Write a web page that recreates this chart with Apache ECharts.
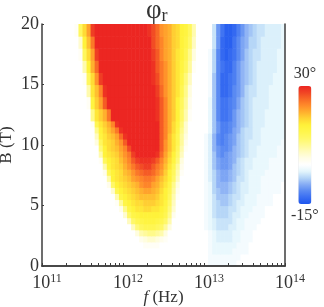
<!DOCTYPE html>
<html>
<head>
<meta charset="utf-8">
<script src="https://cdn.jsdelivr.net/npm/echarts@6/dist/echarts.min.js"></script>
<style>
html,body{margin:0;padding:0;background:#fff;}
#main{width:324px;height:307px;}
</style>
</head>
<body>
<div id="main"></div>
<script>
// Grid of log10(f) cell left edges (decades), step 0.05
const LOGF_EDGES = [
  11.00,11.05,11.10,11.15,11.20,11.25,11.30,11.35,11.40,11.45,
  11.50,11.55,11.60,11.65,11.70,11.75,11.80,11.85,11.90,11.95,
  12.00,12.05,12.10,12.15,12.20,12.25,12.30,12.35,12.40,12.45,
  12.50,12.55,12.60,12.65,12.70,12.75,12.80,12.85,12.90,12.95,
  13.00,13.05,13.10,13.15,13.20,13.25,13.30,13.35,13.40,13.45,
  13.50,13.55,13.60,13.65,13.70,13.75,13.80,13.85,13.90,13.95
];
const LOGF_STEP = 0.05;
// B (T) cell lower edges (0.5 T rows below 12 T, 1 T rows above)
const B_EDGES = [0,0.5,1,1.5,2,2.5,3,3.5,4,4.5,5,5.5,6,6.5,7,7.5,8,8.5,9,9.5,10,10.5,11,11.5,
  12,13,14,15,16,17,18,19];
const B_MAX = 20;
// phi_r (degrees), one row per B cell, bottom to top
const PHI = [
 [0,0,0,0,0,0,0,0,0,0, 0,0,0,0,0,0,0,0,0,0, 0,0,0,0,0,0,0,0,0,0, 0,0,0,0,0,0,0,0,0,0, 0,-1,-1,-1,-1,-1,-1,-1,0,0, 0,0,0,0,0,0,0,0,0,0],
 [0,0,0,0,0,0,0,0,0,0, 0,0,0,0,0,0,0,0,0,0, 0,0,0,0,0,0,0,0,0,0, 0,0,0,0,0,0,0,0,0,0, 0,-1,-1,-1,-1,-1,-1,-1,-1,0, 0,0,0,0,0,0,0,0,0,0],
 [0,0,0,0,0,0,0,0,0,0, 0,0,0,0,0,0,0,0,0,0, 0,0,0,0,0,0,0,0,0,0, 0,0,0,0,0,0,0,0,0,0, 0,-1,-2,-2,-2,-2,-2,-1,-1,-1, -1,0,0,0,0,0,0,0,0,0],
 [0,0,0,0,0,0,0,0,0,0, 0,0,0,0,0,0,0,0,0,0, 0,0,0,0,0,1,1,1,1,0, 0,0,0,0,0,0,0,0,0,0, 0,-1,-2,-2,-2,-2,-2,-2,-1,-1, -1,0,0,0,0,0,0,0,0,0],
 [0,0,0,0,0,0,0,0,0,0, 0,0,0,0,0,0,0,0,0,0, 0,0,0,0,2,3,4,4,3,2, 1,0,0,0,0,0,0,0,0,0, 0,-1,-2,-3,-3,-3,-3,-2,-2,-1, -1,-1,0,0,0,0,0,0,0,0],
 [0,0,0,0,0,0,0,0,0,0, 0,0,0,0,0,0,0,0,0,0, 0,0,0,3,6,7,8,8,7,6, 3,0,0,0,0,0,0,0,0,0, 0,-1,-2,-3,-3,-3,-3,-2,-2,-1, -1,-1,0,0,0,0,0,0,0,0],
 [0,0,0,0,0,0,0,0,0,0, 0,0,0,0,0,0,0,0,0,0, 0,0,5,9,11,12,12,12,11,10, 7,3,0,0,0,0,0,0,0,0, -1,-2,-3,-4,-4,-4,-3,-3,-2,-2, -1,-1,-1,0,0,0,0,0,0,0],
 [0,0,0,0,0,0,0,0,0,0, 0,0,0,0,0,0,0,0,0,0, 0,5,10,12,13,14,14,14,13,12, 10,6,0,0,0,0,0,0,0,0, -1,-2,-3,-4,-4,-4,-4,-3,-2,-2, -1,-1,-1,-1,0,0,0,0,0,0],
 [0,0,0,0,0,0,0,0,0,0, 0,0,0,0,0,0,0,0,0,0, 4,10,13,14,15,15,15,15,15,14, 12,8,2,0,0,0,0,0,0,0, -1,-2,-4,-5,-5,-5,-4,-3,-3,-2, -2,-1,-1,-1,-1,0,0,0,0,0],
 [0,0,0,0,0,0,0,0,0,0, 0,0,0,0,0,0,0,0,0,2, 8,13,15,16,16,17,17,16,16,15, 13,9,4,0,0,0,0,0,0,0, -1,-2,-4,-5,-5,-5,-4,-4,-3,-2, -2,-2,-1,-1,-1,0,0,0,0,0],
 [0,0,0,0,0,0,0,0,0,0, 0,0,0,0,0,0,0,0,1,7, 13,15,16,17,17,18,18,18,17,16, 14,10,5,0,0,0,0,0,0,0, -1,-2,-4,-5,-6,-6,-5,-4,-3,-3, -2,-2,-2,-1,-1,-1,-1,0,0,0],
 [0,0,0,0,0,0,0,0,0,0, 0,0,0,0,0,0,0,0,6,13, 15,16,17,18,19,19,19,19,18,16, 15,11,6,1,0,0,0,0,0,0, -1,-2,-4,-6,-6,-6,-5,-4,-4,-3, -2,-2,-2,-1,-1,-1,-1,0,0,0],
 [0,0,0,0,0,0,0,0,0,0, 0,0,0,0,0,0,0,4,12,15, 16,17,18,19,20,21,21,20,19,17, 15,12,7,2,0,0,0,0,0,0, -1,-2,-5,-6,-7,-7,-6,-5,-4,-3, -3,-2,-2,-2,-1,-1,-1,-1,-1,0],
 [0,0,0,0,0,0,0,0,0,0, 0,0,0,0,0,0,2,10,15,16, 17,18,19,20,22,23,23,21,20,18, 16,13,8,3,0,0,0,0,0,0, -1,-2,-5,-7,-7,-7,-6,-5,-4,-3, -3,-2,-2,-2,-1,-1,-1,-1,-1,0],
 [0,0,0,0,0,0,0,0,0,0, 0,0,0,0,0,0,6,15,16,17, 18,19,21,22,23,24,24,23,21,19, 17,15,10,5,0,0,0,0,0,0, -1,-3,-5,-7,-8,-8,-7,-6,-4,-4, -3,-2,-2,-2,-1,-1,-1,-1,-1,-1],
 [0,0,0,0,0,0,0,0,0,0, 0,0,0,0,0,2,11,15,16,17, 19,20,22,24,25,26,26,25,23,21, 18,15,11,6,1,0,0,0,0,0, -1,-3,-5,-7,-8,-8,-7,-6,-5,-4, -3,-2,-2,-2,-2,-1,-1,-1,-1,-1],
 [0,0,0,0,0,0,0,0,0,0, 0,0,0,0,0,6,14,16,17,18, 20,22,24,26,27,28,28,26,24,22, 19,16,12,7,2,0,0,0,0,0, -1,-3,-6,-8,-9,-9,-8,-6,-5,-4, -3,-3,-2,-2,-2,-2,-1,-1,-1,-1],
 [0,0,0,0,0,0,0,0,0,0, 0,0,0,0,1,11,15,16,17,19, 21,23,26,28,29,29,29,28,26,23, 20,17,14,9,3,0,0,0,0,0, -1,-3,-6,-8,-9,-9,-8,-7,-5,-4, -3,-3,-2,-2,-2,-2,-1,-1,-1,-1],
 [0,0,0,0,0,0,0,0,0,0, 0,0,0,0,6,15,16,17,18,20, 22,24,28,30,30,30,30,30,29,25, 21,18,15,10,5,0,0,0,0,0, -1,-3,-6,-9,-10,-9,-8,-7,-6,-5, -4,-3,-3,-2,-2,-2,-2,-2,-1,-1],
 [0,0,0,0,0,0,0,0,0,0, 0,0,0,0,9,15,17,18,19,21, 23,27,30,30,30,30,30,30,30,26, 22,19,16,11,6,1,0,0,0,0, -1,-3,-7,-9,-10,-10,-9,-7,-6,-5, -4,-3,-3,-2,-2,-2,-2,-2,-1,-1],
 [0,0,0,0,0,0,0,0,0,0, 0,0,0,3,11,16,17,18,20,22, 26,30,30,30,30,30,30,30,30,26, 22,19,16,12,7,2,0,0,0,0, -1,-3,-7,-10,-11,-10,-9,-8,-6,-5, -4,-3,-3,-3,-2,-2,-2,-2,-2,-1],
 [0,0,0,0,0,0,0,0,0,0, 0,0,0,5,14,16,18,19,21,25, 29,30,30,30,30,30,30,30,30,26, 23,19,16,12,7,3,0,0,0,0, -1,-3,-7,-10,-11,-10,-9,-8,-6,-5, -4,-4,-3,-3,-2,-2,-2,-2,-2,-2],
 [0,0,0,0,0,0,0,0,0,0, 0,0,0,8,15,17,19,21,24,29, 30,30,30,30,30,30,30,30,30,26, 23,20,17,13,8,4,0,0,0,0, 0,-2,-6,-9,-11,-11,-10,-8,-7,-5, -4,-4,-3,-3,-2,-2,-2,-2,-2,-2],
 [0,0,0,0,0,0,0,0,0,0, 0,0,1,12,16,18,20,23,29,30, 30,30,30,30,30,30,30,30,30,26, 23,20,17,14,9,4,0,0,0,0, 0,-2,-6,-9,-11,-11,-10,-9,-7,-6, -5,-4,-3,-3,-3,-2,-2,-2,-2,-2],
 [0,0,0,0,0,0,0,0,0,0, 0,0,8,16,18,20,24,30,30,30, 30,30,30,30,30,30,30,30,29,26, 23,20,18,15,10,6,1,0,0,0, 0,-2,-6,-10,-12,-12,-11,-9,-7,-6, -5,-4,-3,-3,-3,-2,-2,-2,-2,-2],
 [0,0,0,0,0,0,0,0,0,0, 0,1,14,18,21,26,30,30,30,30, 30,30,30,30,30,30,30,30,29,26, 23,20,18,15,11,7,2,0,0,0, 0,-2,-6,-10,-12,-12,-11,-10,-8,-6, -5,-4,-3,-3,-3,-3,-2,-2,-2,-2],
 [0,0,0,0,0,0,0,0,0,0, 0,6,16,19,23,29,30,30,30,30, 30,30,30,30,30,30,30,30,28,25, 22,20,18,16,12,8,3,0,0,0, 0,-1,-6,-10,-13,-13,-12,-10,-9,-7, -5,-4,-4,-3,-3,-3,-2,-2,-2,-2],
 [0,0,0,0,0,0,0,0,0,0, 1,11,17,22,28,30,30,30,30,30, 30,30,30,30,30,30,30,29,27,24, 22,20,18,16,13,9,5,0,0,0, 0,-1,-6,-10,-13,-13,-12,-11,-9,-7, -6,-5,-4,-3,-3,-3,-3,-2,-2,-2],
 [0,0,0,0,0,0,0,0,0,0, 6,15,20,25,30,30,30,30,30,30, 30,30,30,30,30,30,30,29,26,24, 22,20,18,16,14,11,7,1,0,0, 0,-1,-5,-10,-12,-13,-13,-11,-9,-7, -6,-5,-4,-3,-3,-3,-3,-3,-2,-2],
 [0,0,0,0,0,0,0,0,0,1, 11,17,21,28,30,30,30,30,30,30, 30,30,30,30,30,30,30,28,26,23, 21,20,18,16,15,12,8,3,0,0, 0,-1,-5,-10,-13,-14,-13,-12,-10,-8, -6,-5,-4,-4,-3,-3,-3,-3,-2,-2],
 [0,0,0,0,0,0,0,0,0,4, 15,19,24,30,30,30,30,30,30,30, 30,30,30,30,30,30,30,27,25,23, 21,20,18,17,15,13,10,5,0,0, 0,0,-4,-9,-13,-14,-14,-12,-10,-8, -7,-5,-5,-4,-3,-3,-3,-3,-3,-2],
 [0,0,0,0,0,0,0,0,1,11, 17,21,28,30,30,30,30,30,30,30, 30,30,30,30,30,30,29,27,25,22, 21,20,18,17,15,14,11,6,0,0, 0,0,-4,-9,-12,-14,-14,-13,-11,-9, -7,-6,-5,-4,-4,-3,-3,-3,-3,-2]
];
const X_LABEL_VALUES = [1e11, 1e12, 1e13, 1e14];
const X_TICK_VALUES = [
  1e11,2e11,3e11,4e11,5e11,6e11,7e11,8e11,9e11,
  1e12,2e12,3e12,4e12,5e12,6e12,7e12,8e12,9e12,
  1e13,2e13,3e13,4e13,5e13,6e13,7e13,8e13,9e13,1e14
];
const Y_TICKS = [0, 5, 10, 15, 20];
const COLOR_MIN = -15, COLOR_MAX = 30;
const COLOR_TEXT = ['30°', '-15°'];
const COLOR_STOPS = ['#1e56ee','#3a6ef2','#5a8af2','#86acf4','#b6d6f7','#e4f6fc','#ffffff',
  '#fffde6','#fffbbf','#fffa92','#fff868','#fff64c','#fff23a','#ffd534','#ffb02e','#ff8c2a',
  '#f86a26','#f04424','#ec2622'];

const cells = [];
for (let j = 0; j < B_EDGES.length; j++) {
  const b0 = B_EDGES[j];
  const b1 = j + 1 < B_EDGES.length ? B_EDGES[j + 1] : B_MAX;
  for (let i = 0; i < LOGF_EDGES.length; i++) {
    const lf = LOGF_EDGES[i];
    cells.push([Math.pow(10, lf), b0, PHI[j][i], Math.pow(10, lf + LOGF_STEP), b1]);
  }
}

const FONT = 'Liberation Serif';
const AX = '#3c3c3c';
const TXT = '#333';
const chart = echarts.init(document.getElementById('main'), null, {renderer: 'canvas'});
chart.setOption({
  animation: false,
  backgroundColor: '#fff',
  title: {
    text: '{a|φ}{r|r}',
    left: 146, top: -3, padding: 0,
    textStyle: {
      fontFamily: FONT, fontSize: 27, fontWeight: 'normal', color: TXT,
      rich: {
        a: {fontFamily: FONT, fontSize: 27, fontWeight: 'normal', color: TXT, lineHeight: 28},
        r: {fontFamily: FONT, fontSize: 18, fontWeight: 'normal', color: TXT, verticalAlign: 'bottom', lineHeight: 18}
      }
    }
  },
  grid: {left: 42, top: 24, right: 39, bottom: 41, show: false, containLabel: false, outerBoundsMode: 'none'},
  xAxis: [{
    type: 'log', logBase: 10, min: 1e11, max: 1e14, z: 10,
    name: '{i|f} (Hz)', nameLocation: 'middle', nameGap: 23, nameMoveOverlap: false,
    nameTextStyle: {fontFamily: FONT, fontSize: 17, color: TXT,
      rich: {i: {fontFamily: FONT, fontSize: 17, fontStyle: 'italic', color: TXT}}},
    axisLine: {show: true, lineStyle: {color: AX, width: 1.5}},
    axisTick: {show: true, inside: true, length: 3, lineStyle: {color: AX, width: 1}, customValues: X_TICK_VALUES},
    minorTick: {show: false},
    splitLine: {show: false},
    axisLabel: {
      customValues: X_LABEL_VALUES, margin: 7, padding: [0, 0, 0, 10],
      formatter: v => '{b|10}{s|' + Math.round(Math.log10(v)) + '}',
      rich: {
        b: {fontFamily: FONT, fontSize: 18, color: TXT, lineHeight: 20},
        s: {fontFamily: FONT, fontSize: 12, color: TXT, verticalAlign: 'top'}
      }
    }
  }, {
    type: 'log', logBase: 10, min: 1e11, max: 1e14, position: 'top', z: 10,
    axisLine: {show: true, lineStyle: {color: AX, width: 1.5}},
    axisTick: {show: false}, axisLabel: {show: false}, splitLine: {show: false}
  }],
  yAxis: [{
    type: 'value', min: 0, max: 20, interval: 5, z: 10,
    name: 'B (T)', nameLocation: 'middle', nameGap: 27, nameRotate: 90, nameMoveOverlap: false,
    nameTextStyle: {fontFamily: FONT, fontSize: 17, color: TXT},
    axisLine: {show: true, lineStyle: {color: AX, width: 1.5}},
    axisTick: {show: true, inside: true, length: 2, lineStyle: {color: AX, width: 1}},
    splitLine: {show: false},
    axisLabel: {margin: 3, fontFamily: FONT, fontSize: 18, color: TXT, customValues: Y_TICKS}
  }, {
    type: 'value', min: 0, max: 20, position: 'right', z: 10,
    axisLine: {show: true, lineStyle: {color: AX, width: 1.5}},
    axisTick: {show: false}, axisLabel: {show: false}, splitLine: {show: false}
  }],
  visualMap: {
    type: 'continuous', min: COLOR_MIN, max: COLOR_MAX, dimension: 2, seriesIndex: 0,
    calculable: false, orient: 'vertical', left: 291, top: 66, padding: 0,
    itemWidth: 13, itemHeight: 118, text: COLOR_TEXT, textGap: 4,
    textStyle: {fontFamily: FONT, fontSize: 16, color: TXT},
    inRange: {color: COLOR_STOPS}
  },
  series: [{
    type: 'custom', coordinateSystem: 'cartesian2d', xAxisIndex: 0, yAxisIndex: 0,
    data: cells, encode: {x: [0, 3], y: [1, 4]}, clip: true, z: 2,
    renderItem: function (params, api) {
      const p0 = api.coord([api.value(0), api.value(1)]);
      const p1 = api.coord([api.value(3), api.value(4)]);
      return {
        type: 'rect',
        shape: {x: Math.min(p0[0], p1[0]), y: Math.min(p0[1], p1[1]),
          width: Math.abs(p1[0] - p0[0]) + 0.6, height: Math.abs(p1[1] - p0[1]) + 0.6},
        style: {fill: api.visual('color')}
      };
    }
  }]
});
</script>
</body>
</html>
